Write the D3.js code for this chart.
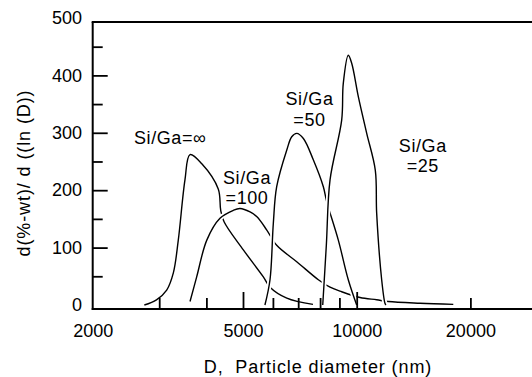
<!DOCTYPE html>
<html>
<head>
<meta charset="utf-8">
<script src="https://cdn.jsdelivr.net/npm/d3@7/dist/d3.min.js"></script>
<style>
  html, body { margin: 0; padding: 0; background: #fff; }
  svg { display: block; }
  text { font-family: "Liberation Sans", Arial, Helvetica, sans-serif; fill: #000; }
</style>
</head>
<body>
<svg id="chart" width="532" height="377"></svg>
<script>
// ---- data ----
// particle diameter D (nm) and d(%-wt)/d(ln D)
const infD   = [2740, 2950, 3140, 3270, 3370, 3510, 3620, 3890, 4300, 4365, 4455, 5010, 5660, 5895, 6530, 7660];
const infV   = [0,    9,    26,   56,   113,  218,  262,  246,  202,  165,  145,  96,   49,   31,   12,   1];

const d100D  = [3620, 3770, 4010, 4345, 4715, 4910, 5220, 5435, 5775, 6140, 6950, 7915, 8500, 9125, 10205, 11295, 12125, 14715, 18020];
const d100V  = [6,    49,   113,  151,  165,  168,  162,  154,  131,  104,  75,   44,   31,   23,   13,    9,     6,     3,     1];

const d50D   = [5715, 5895, 6015, 6140, 6530, 6730, 6940, 7225, 7675, 8160, 8330, 8940, 9500, 10000];
const d50V   = [0,    44,   142,  206,  270,  293,  299,  290,  253,  206,  180,  113,  44,   0];

const d25D   = [8130, 8310, 8500, 9125, 9215, 9500, 9700, 10100, 10630, 11200, 11295, 11645, 11880, 11950];
const d25V   = [0,    104,  218,  322,  386,  435,  421,  363,   299,   235,   160,   44,    3,     0];

const seriesNames = ["∞", "100", "50", "25"];

// axis ticks
const xTickLabels = [2000, 5000, 10000, 20000];
const xTickLong   = [5000, 10000];
const xTickShort  = [3000, 4000, 6000, 7000, 8000, 9000, 20000];
const yTickLabels = [0, 100, 200, 300, 400, 500];
const yTickLong   = [100, 200, 300, 400];
const yTickShort  = [50, 150, 250, 350, 450];

const xTitle = "D,  Particle diameter (nm)";
const yTitle = "d(%-wt)/ d ((ln (D))";

// ---- layout ----
const svg = d3.select("#chart");
const x = d3.scaleLog().domain([2000, 30000]).range([92.7, 536.9]);
const y = d3.scaleLinear().domain([-7, 493]).range([309, 22]);

const series = [
  {name: seriesNames[0], D: infD,  V: infV},
  {name: seriesNames[1], D: d100D, V: d100V},
  {name: seriesNames[2], D: d50D,  V: d50V},
  {name: seriesNames[3], D: d25D,  V: d25V}
];

const line = d3.line()
  .x(d => x(d[0]))
  .y(d => y(d[1]))
  .curve(d3.curveCatmullRom.alpha(0.5));

const gCurves = svg.append("g");
series.forEach(s => {
  const pts = s.D.map((d, i) => [d, s.V[i]]);
  gCurves.append("path").attr("d", line(pts))
    .attr("fill", "none").attr("stroke", "#fff").attr("stroke-width", 5);
  gCurves.append("path").attr("d", line(pts))
    .attr("fill", "none").attr("stroke", "#000").attr("stroke-width", 1.4)
    .attr("stroke-linejoin", "round");
});

// ---- axes ----
const x0 = x.range()[0];
const yBottom = y.range()[0], yTop = y.range()[1];

function styleAxis(g, w) {
  g.select(".domain").remove();
  g.selectAll(".tick line").attr("stroke", "#000").attr("stroke-width", w);
}

// x ticks (pointing inward)
svg.append("g").attr("transform", `translate(0,${yBottom})`)
  .call(d3.axisBottom(x).tickValues(xTickLong).tickSize(-17).tickFormat(""))
  .call(g => styleAxis(g, 1.8));
svg.append("g").attr("transform", `translate(0,${yBottom})`)
  .call(d3.axisBottom(x).tickValues(xTickShort).tickSize(-11).tickFormat(""))
  .call(g => styleAxis(g, 1.8));
// x labels
svg.append("g").attr("transform", `translate(0,${yBottom})`)
  .call(d3.axisBottom(x).tickValues(xTickLabels).tickSize(0).tickPadding(15).tickFormat(d3.format("d")))
  .call(g => { g.select(".domain").remove(); g.selectAll(".tick line").remove();
    g.selectAll("text").attr("font-size", 18).attr("fill", "#000")
      .style("font-family", '"Liberation Sans", Arial, sans-serif'); });

// y ticks
svg.append("g").attr("transform", `translate(${x0},0)`)
  .call(d3.axisLeft(y).tickValues(yTickLong).tickSize(-15).tickFormat(""))
  .call(g => styleAxis(g, 1.8));
svg.append("g").attr("transform", `translate(${x0},0)`)
  .call(d3.axisLeft(y).tickValues(yTickShort).tickSize(-10).tickFormat(""))
  .call(g => styleAxis(g, 1.8));
svg.append("g").attr("transform", `translate(${x0},0)`)
  .call(d3.axisLeft(y).tickValues(yTickLabels).tickSize(0).tickPadding(10.7).tickFormat(d3.format("d")))
  .call(g => { g.select(".domain").remove(); g.selectAll(".tick line").remove();
    g.selectAll("text").attr("font-size", 18).attr("fill", "#000")
      .style("font-family", '"Liberation Sans", Arial, sans-serif'); });

// frame: left, bottom, top
const frame = svg.append("g").attr("stroke", "#000").attr("stroke-width", 2).attr("fill", "none");
frame.append("line").attr("x1", x0).attr("x2", x0).attr("y1", yTop).attr("y2", yBottom + 1);
frame.append("line").attr("x1", x0 - 1).attr("x2", x.range()[1]).attr("y1", yBottom).attr("y2", yBottom);
frame.append("line").attr("x1", x0 - 1).attr("x2", x.range()[1]).attr("y1", yTop).attr("y2", yTop);

// axis titles
svg.append("text")
  .attr("x", 318).attr("y", 372.5)
  .attr("text-anchor", "middle").attr("font-size", 18)
  .attr("letter-spacing", 0.9)
  .style("white-space", "pre")
  .text(xTitle);
svg.append("text")
  .attr("transform", "translate(29.5,173) rotate(-90)")
  .attr("text-anchor", "middle").attr("font-size", 18)
  .attr("letter-spacing", 0.9)
  .text(yTitle);

// curve annotations (positioned in data units)
const ann = svg.append("g").attr("font-size", 18).attr("letter-spacing", 0.6);
ann.append("text").attr("x", x(2572)).attr("y", y(280.5)).text("Si/Ga=" + seriesNames[0]);
[[5124, 210.8, seriesNames[1]], [7500, 348.4, seriesNames[2]], [14964, 267, seriesNames[3]]]
  .forEach(([dx, vy, nm]) => {
    const t = ann.append("text").attr("text-anchor", "middle");
    t.append("tspan").attr("x", x(dx)).attr("y", y(vy)).text("Si/Ga");
    t.append("tspan").attr("x", x(dx)).attr("dy", 20.5).text("=" + nm);
  });
</script>
</body>
</html>
